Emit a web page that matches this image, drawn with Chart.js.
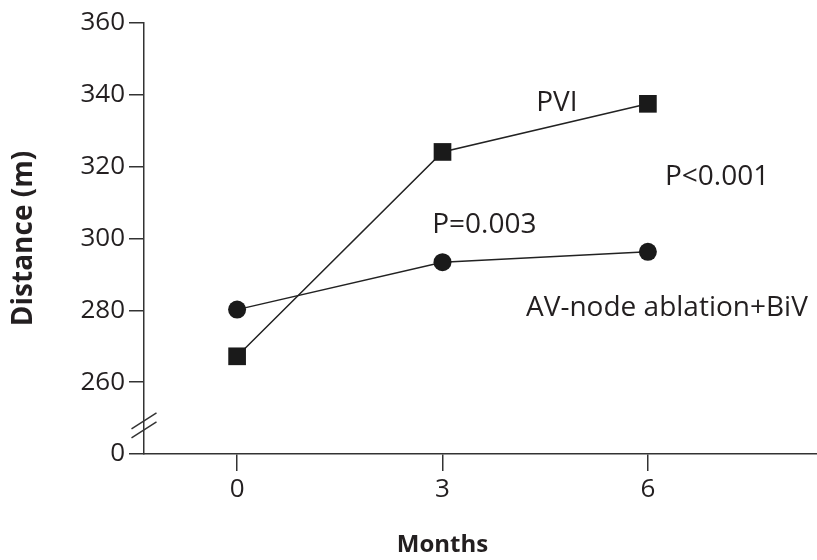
<!DOCTYPE html>
<html>
<head>
<meta charset="utf-8">
<script src="https://cdn.jsdelivr.net/npm/chart.js@4/dist/chart.umd.min.js"></script>
<style>
html, body { margin: 0; padding: 0; background: #fff; }
#wrap { width: 817px; height: 560px; }
</style>
</head>
<body>
<div id="wrap"><canvas id="walkChart" width="817" height="560"></canvas></div>
<script>
const months = [0, 3, 6];
const pviDistance = [267.2, 324.1, 337.5];
const avNodeDistance = [280.2, 293.4, 296.3];

// 240 sits where the axis is broken, it carries the "0" label
const yTickValues = [240, 260, 280, 300, 320, 340, 360];
const yTickLabels = ['0', '260', '280', '300', '320', '340', '360'];
const xTickValues = [0, 3, 6];

const noteTexts = ['PVI', 'P<0.001', 'P=0.003', 'AV-node ablation+BiV'];
const noteX = [4.67, 6.25, 2.85, 4.22];
const noteY = [337.8, 317.1, 303.7, 280.6];
const noteAlign = ['center', 'left', 'left', 'left'];

const inkColor = '#231f20';
const fontFamily = "'Open Sans', 'DejaVu Sans', sans-serif";


const notesPlugin = {
    id: 'notes',
    afterDatasetsDraw(chart) {
        const { ctx, scales } = chart;
        ctx.save();
        ctx.fillStyle = inkColor;
        ctx.font = `28px ${fontFamily}`;
        ctx.textBaseline = 'middle';
        noteTexts.forEach((text, i) => {
            ctx.textAlign = noteAlign[i];
            ctx.fillText(text, scales.x.getPixelForValue(noteX[i]), scales.y.getPixelForValue(noteY[i]));
        });

        // x title sits under the middle tick, not the middle of the axis
        ctx.font = `bold 24px ${fontFamily}`;
        ctx.textAlign = 'center';
        ctx.fillText('Months', scales.x.getPixelForValue(3), scales.x.bottom - 15);
        ctx.restore();
    }
};


const axisBreakPlugin = {
    id: 'axisBreak',
    afterDraw(chart) {
        const { ctx, scales } = chart;
        const x = scales.x.left;
        const y = scales.y.getPixelForValue(248);
        ctx.save();
        ctx.strokeStyle = '#333';
        ctx.lineWidth = 1.5;
        [-4.5, 4.5].forEach(off => {
            ctx.beginPath();
            ctx.moveTo(x - 12.5, y + off + 8);
            ctx.lineTo(x + 12.5, y + off - 8);
            ctx.stroke();
        });
        ctx.restore();
    }
};


function createWalkChart() {
    const ctx = document.getElementById('walkChart').getContext('2d');
    new Chart(ctx, {
        type: 'line',
        data: {
            datasets: [{
                label: 'PVI',
                data: months.map((m, i) => ({ x: m, y: pviDistance[i] })),
                borderColor: '#222',
                backgroundColor: '#1a1a1a',
                borderWidth: 1.5,
                pointStyle: 'rect',
                pointRadius: 12.5,
                pointBorderWidth: 0,
                tension: 0
            }, {
                label: 'AV-node ablation+BiV',
                data: months.map((m, i) => ({ x: m, y: avNodeDistance[i] })),
                borderColor: '#222',
                backgroundColor: '#1a1a1a',
                borderWidth: 1.5,
                pointStyle: 'circle',
                pointRadius: 9,
                pointBorderWidth: 0,
                tension: 0
            }]
        },
        options: {
            responsive: false,
            animation: false,
            layout: { autoPadding: false, padding: { top: 23, right: 0, bottom: 0, left: 0 } },
            plugins: {
                legend: { display: false },
                tooltip: { enabled: false }
            },
            scales: {
                x: {
                    type: 'linear',
                    min: -1.36,
                    max: 8.47,
                    afterBuildTicks: scale => { scale.ticks = xTickValues.map(v => ({ value: v })); },
                    afterFit: scale => {
                        scale.height = 106;
                        scale.paddingLeft = 0;
                        scale.paddingRight = 0;
                    },
                    grid: { drawOnChartArea: false, tickLength: 17, color: '#333', lineWidth: 1.5 },
                    border: { color: '#333', width: 1.5 },
                    ticks: { color: inkColor, font: { family: fontFamily, size: 26 }, padding: 3 },
                    title: { display: false }
                },
                y: {
                    min: 240,
                    max: 360,
                    afterBuildTicks: scale => { scale.ticks = yTickValues.map(v => ({ value: v })); },
                    afterFit: scale => {
                        scale.width = 144;
                        scale.paddingTop = 0;
                        scale.paddingBottom = 0;
                    },
                    grid: { drawOnChartArea: false, tickLength: 15, color: '#333', lineWidth: 1.5 },
                    border: { color: '#333', width: 1.5 },
                    ticks: {
                        color: inkColor,
                        font: { family: fontFamily, size: 26 },
                        padding: 4,
                        callback: (value, i) => yTickLabels[i]
                    },
                    title: {
                        display: true,
                        text: 'Distance (m)',
                        color: inkColor,
                        font: { family: fontFamily, size: 28, weight: 'bold' },
                        padding: { top: 7, bottom: 0 }
                    }
                }
            }
        },
        plugins: [notesPlugin, axisBreakPlugin]
    });
}

createWalkChart();
</script>
</body>
</html>
